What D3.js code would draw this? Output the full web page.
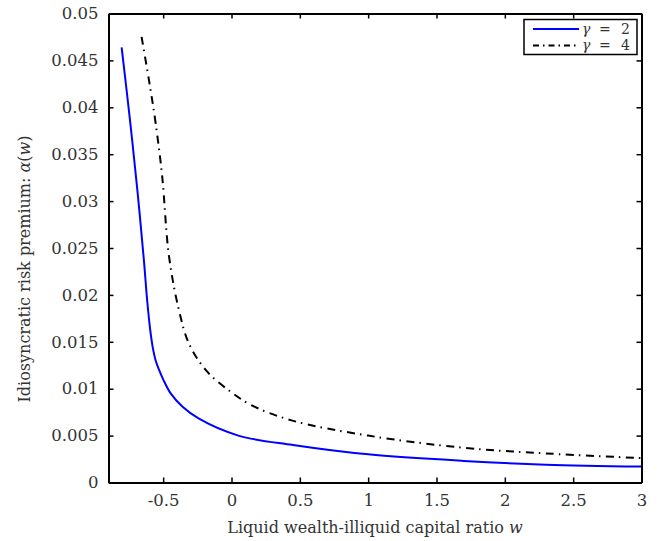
<!DOCTYPE html>
<html>
<head>
<meta charset="utf-8">
<script src="https://cdn.jsdelivr.net/npm/d3@7"></script>
<style>
body { margin: 0; background: #fff; }
text { font-family: "DejaVu Serif", "Liberation Serif", serif; }
</style>
</head>
<body>
<script>
var w = 662;
var h = 541;
var margin = {top: 13.5, right: 20.5, bottom: 58.5, left: 108.5};

// gamma = 2
var xBlue = [-0.804, -0.744, -0.689, -0.641, -0.617, -0.595, -0.575, -0.555, -0.53, -0.5, -0.445, -0.36, -0.238, 0.05, 0.45, 1.0, 1.7, 2.3, 3.0];
var yBlue = [0.0464, 0.0388, 0.0312, 0.0237, 0.0194, 0.0163, 0.0143, 0.0130, 0.0120, 0.0110, 0.0095, 0.0081, 0.0068, 0.0050, 0.0040, 0.0030, 0.0023, 0.0019, 0.0017];
// gamma = 4
var xBlack = [-0.658, -0.604, -0.555, -0.507, -0.458, -0.385, -0.311, -0.189, -0.018, 0.152, 0.445, 1.0, 1.7, 2.3, 3.0];
var yBlack = [0.0475, 0.0429, 0.0383, 0.0326, 0.0242, 0.0184, 0.0148, 0.0120, 0.0098, 0.0082, 0.0066, 0.0050, 0.0037, 0.0031, 0.0026];

var xTicks = [-0.5, 0, 0.5, 1, 1.5, 2, 2.5, 3];
var yTicks = [0, 0.005, 0.01, 0.015, 0.02, 0.025, 0.03, 0.035, 0.04, 0.045, 0.05];
var yTickLabels = ["0", "0.005", "0.01", "0.015", "0.02", "0.025", "0.03", "0.035", "0.04", "0.045", "0.05"];

var x = d3.scaleLinear().domain([-0.9, 3]).range([margin.left, w - margin.right]);
var y = d3.scaleLinear().domain([0, 0.05]).range([h - margin.bottom, margin.top]);

var svg = d3.select("body")
        .append("svg")
        .attr("width", w)
        .attr("height", h);

var line = d3.line()
        .x(function (d) { return x(d[0]); })
        .y(function (d) { return y(d[1]); })
        .curve(d3.curveCatmullRom.alpha(0.5));

svg.append("path")
        .attr("d", line(d3.zip(xBlue, yBlue)))
        .attr("fill", "none")
        .attr("stroke", "#0000ff")
        .attr("stroke-width", 2);

svg.append("path")
        .attr("d", line(d3.zip(xBlack, yBlack)))
        .attr("fill", "none")
        .attr("stroke", "#000")
        .attr("stroke-width", 2)
        .attr("stroke-dasharray", "8,5,1.5,5.5");

// axes, ticks inward, mirrored on top/right
var tk = 5;
var gBottom = svg.append("g")
        .attr("transform", "translate(0," + y(0) + ")")
        .call(d3.axisBottom(x).tickValues(xTicks).tickSizeInner(-tk).tickSizeOuter(0)
                .tickPadding(12).tickFormat(function (d) { return d === 0 ? "0" : String(d); }));
var gTop = svg.append("g")
        .attr("transform", "translate(0," + y(0.05) + ")")
        .call(d3.axisTop(x).tickValues(xTicks).tickSizeInner(-tk).tickSizeOuter(0).tickFormat(""));
var gLeft = svg.append("g")
        .attr("transform", "translate(" + x(-0.9) + ",0)")
        .call(d3.axisLeft(y).tickValues(yTicks).tickSizeInner(-tk).tickSizeOuter(0)
                .tickPadding(10).tickFormat(function (d, i) { return yTickLabels[i]; }));
var gRight = svg.append("g")
        .attr("transform", "translate(" + x(3) + ",0)")
        .call(d3.axisRight(y).tickValues(yTicks).tickSizeInner(-tk).tickSizeOuter(0).tickFormat(""));

[gBottom, gTop, gLeft, gRight].forEach(function (g) {
    g.selectAll(".domain").attr("stroke", "#000").attr("stroke-width", 2);
    g.selectAll(".tick line").attr("stroke", "#000").attr("stroke-width", 1.5);
    g.selectAll("text").attr("font-size", 16.5).attr("fill", "#333")
            .style("font-family", "'DejaVu Serif', serif");
});

// axis labels
svg.append("text")
        .attr("x", 375)
        .attr("y", 533)
        .attr("text-anchor", "middle")
        .attr("font-size", 16)
        .attr("fill", "#333")
        .text("Liquid wealth-illiquid capital ratio ")
        .append("tspan").attr("font-style", "italic").text("w");

var yl = svg.append("text")
        .attr("transform", "translate(29.5,269) rotate(-90)")
        .attr("text-anchor", "middle")
        .attr("font-size", 16)
        .attr("fill", "#333");
yl.append("tspan").text("Idiosyncratic risk premium: ");
yl.append("tspan").attr("font-style", "italic").text("α");
yl.append("tspan").text("(");
yl.append("tspan").attr("font-style", "italic").text("w");
yl.append("tspan").text(")");

// legend
var lg = svg.append("g");
lg.append("rect")
        .attr("x", 524).attr("y", 19.5).attr("width", 113).attr("height", 35)
        .attr("fill", "#fff").attr("stroke", "#000").attr("stroke-width", 1.5);
var items = [
    {name: "2", color: "#0000ff", dash: null, yy: 29},
    {name: "4", color: "#000", dash: "6,4,1.5,4", yy: 45.5}
];
items.forEach(function (d) {
    lg.append("line")
            .attr("x1", 533).attr("x2", 579).attr("y1", d.yy).attr("y2", d.yy)
            .attr("stroke", d.color).attr("stroke-width", 2)
            .attr("stroke-dasharray", d.dash);
    lg.append("text")
            .attr("x", 582).attr("y", d.yy + 4.5)
            .attr("font-size", 14).attr("fill", "#333")
            .attr("font-style", "italic").text("γ");
    lg.append("text")
            .attr("x", 599).attr("y", d.yy + 4.5)
            .attr("font-size", 14).attr("fill", "#333")
            .text("=");
    lg.append("text")
            .attr("x", 621).attr("y", d.yy + 4.5)
            .attr("font-size", 14).attr("fill", "#333")
            .text(d.name);
});
</script>
</body>
</html>
